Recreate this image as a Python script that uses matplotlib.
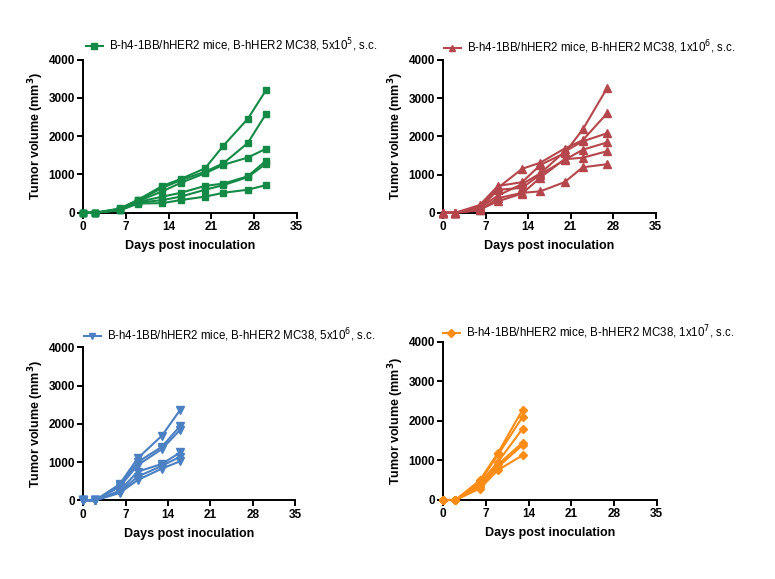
import matplotlib
matplotlib.use("Agg")
import matplotlib.pyplot as plt

plt.rcParams['font.family'] = ['Liberation Sans', 'DejaVu Sans']

# ---- data ----
days_a = [0, 2, 6, 9, 13, 16, 20, 23, 27, 30]
green_series = [
    [0, 0, 110, 340, 700, 880, 1160, 1750, 2450, 3200],
    [0, 0, 100, 320, 650, 850, 1070, 1290, 1820, 2580],
    [0, 0, 90, 300, 560, 780, 1030, 1250, 1440, 1670],
    [0, 0, 80, 280, 420, 520, 700, 760, 950, 1360],
    [0, 0, 70, 260, 330, 420, 600, 720, 930, 1280],
    [0, 0, 60, 240, 250, 330, 420, 520, 600, 720],
]

days_b = [0, 2, 6, 9, 13, 16, 20, 23, 27]
red_series = [
    [0, 0, 200, 700, 800, 1250, 1560, 2180, 3260],
    [0, 0, 150, 650, 1150, 1310, 1680, 1900, 2600],
    [0, 0, 120, 450, 750, 1030, 1600, 1870, 2080],
    [0, 0, 100, 600, 650, 1000, 1380, 1650, 1840],
    [0, 0, 80, 300, 500, 920, 1400, 1440, 1610],
    [0, 0, 60, 380, 520, 560, 800, 1190, 1270],
]

days_c = [0, 2, 6, 9, 13, 16]
blue_series = [
    [0, 0, 420, 1100, 1690, 2360],
    [0, 0, 400, 1000, 1400, 1940],
    [0, 0, 350, 920, 1340, 1840],
    [0, 0, 250, 750, 950, 1250],
    [0, 0, 220, 620, 900, 1140],
    [0, 0, 190, 530, 830, 1020],
]

days_d = [0, 2, 6, 9, 13]
orange_series = [
    [0, 0, 500, 1200, 2280],
    [0, 0, 460, 1150, 2100],
    [0, 0, 420, 970, 1800],
    [0, 0, 380, 900, 1450],
    [0, 0, 330, 840, 1390],
    [0, 0, 290, 760, 1130],
]

labels = [
    r"B-h4-1BB/hHER2 mice, B-hHER2 MC38, 5x10$^{5}$, s.c.",
    r"B-h4-1BB/hHER2 mice, B-hHER2 MC38, 1x10$^{6}$, s.c.",
    r"B-h4-1BB/hHER2 mice, B-hHER2 MC38, 5x10$^{6}$, s.c.",
    r"B-h4-1BB/hHER2 mice, B-hHER2 MC38, 1x10$^{7}$, s.c.",
]
x_ticks = [0, 7, 14, 21, 28, 35]
y_ticks = [0, 1000, 2000, 3000, 4000]

panels = [
    (days_a, green_series, "#138a45", "s", 5, labels[0]),
    (days_b, red_series, "#b5464b", "^", 6, labels[1]),
    (days_c, blue_series, "#4b80c3", "v", 6, labels[2]),
    (days_d, orange_series, "#ff8c14", "D", 4.5, labels[3]),
]

W, H = 775, 579
fig = plt.figure(figsize=(W / 100, H / 100), dpi=100)

# axes boxes in pixels: (x0, x35, y4000, y0)
boxes = [
    (83.3, 296.5, 59.5, 212.7),
    (443.3, 655.5, 60.0, 212.7),
    (83.3, 295.0, 347.3, 500.3),
    (443.3, 656.7, 341.7, 500.0),
]
# legend anchor (handle start x, centre y) in pixels
legend_pos = [(86, 45), (444, 47), (84, 335), (443, 332)]

for (days, series, color, marker, ms, label), (x0, x1, yt, yb), (lx, ly) in zip(panels, boxes, legend_pos):
    ax = fig.add_axes([x0 / W, (H - yb) / H, (x1 - x0) / W, (yb - yt) / H])
    for i, s in enumerate(series):
        ax.plot(days, s, color=color, marker=marker, markersize=ms, linewidth=1.5,
                clip_on=False, label=label if i == 0 else None, zorder=3)
    ax.set_xlim(0, 35)
    ax.set_ylim(0, 4000)
    ax.set_xticks(x_ticks)
    ax.set_yticks(y_ticks)
    for sp in ("top", "right"):
        ax.spines[sp].set_visible(False)
    for sp in ("left", "bottom"):
        ax.spines[sp].set_linewidth(1.4)
        ax.spines[sp].set_color("black")
    ax.tick_params(axis="both", direction="out", length=4, width=1.4, labelsize=8.5, pad=2)
    for t in ax.get_xticklabels() + ax.get_yticklabels():
        t.set_fontweight("bold")
    ax.set_xlabel("Days post inoculation", fontsize=9, fontweight="bold", labelpad=5)
    ax.set_ylabel(r"Tumor volume (mm$^{\mathbf{3}}$)", fontsize=9, fontweight="bold", labelpad=2)
    ax.legend(loc="center left", bbox_to_anchor=(lx / W, 1 - ly / H),
              bbox_transform=fig.transFigure, frameon=False,
              fontsize=8.3, handlelength=1.45, handletextpad=0.55,
              borderaxespad=0, borderpad=0, markerscale=0.8)

fig.savefig("out.png", dpi=100)
